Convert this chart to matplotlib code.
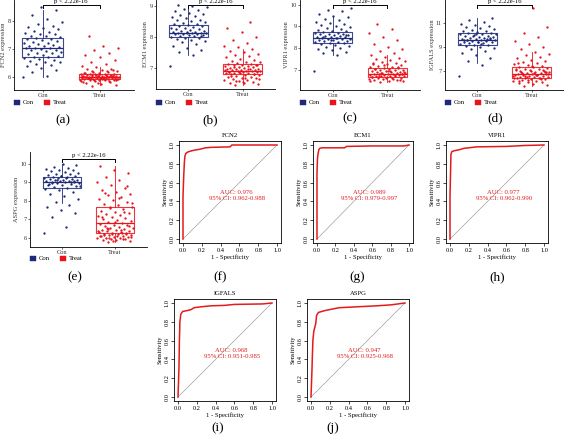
import numpy as np
import matplotlib
matplotlib.use('Agg')
import matplotlib.pyplot as plt
import matplotlib.transforms as mtrans
from matplotlib.patches import Rectangle

plt.rcParams['font.family'] = ['Liberation Serif', 'DejaVu Serif']

# ---- expression values (jittered points) ----
fcn2_con = [6.0, 6.05, 6.18, 6.25, 6.32, 6.38, 6.44, 6.48, 6.52, 6.55, 6.58, 6.62, 6.65, 6.68, 6.7,
            6.73, 6.76, 6.79, 6.81, 6.84, 6.87, 6.9, 6.92, 6.95, 6.97, 7.0, 7.02, 7.04, 7.05, 7.08,
            7.1, 7.12, 7.15, 7.18, 7.2, 7.23, 7.26, 7.28, 7.31, 7.34, 7.37, 7.4, 7.42, 7.45, 7.48,
            7.52, 7.55, 7.58, 7.62, 7.66, 7.7, 7.74, 7.78, 7.83, 7.9, 7.98, 8.08, 8.2, 8.38, 8.5]
fcn2_treat = [5.68, 5.72, 5.76, 5.8, 5.82, 5.84, 5.86, 5.88, 5.89, 5.9, 5.91, 5.92, 5.92, 5.93, 5.94,
              5.94, 5.95, 5.95, 5.96, 5.96, 5.97, 5.97, 5.98, 5.98, 5.99, 5.99, 6.0, 6.0, 6.01, 6.01,
              6.02, 6.02, 6.03, 6.03, 6.04, 6.05, 6.05, 6.06, 6.07, 6.08, 6.09, 6.1, 6.11, 6.12, 6.13,
              6.14, 5.87, 5.9, 5.93, 5.95, 5.97, 5.99, 6.01, 6.03, 6.06, 6.08, 5.91, 5.96, 6.0, 6.04,
              6.1, 5.89, 5.94, 5.98, 6.02, 6.07, 6.15, 6.17, 6.19, 6.21, 6.24, 6.27, 6.3, 6.35, 6.4,
              6.48, 6.55, 6.62, 6.7, 6.78, 6.86, 6.95, 7.05, 7.1, 7.46, 6.25, 5.78, 5.83, 6.2, 6.23]

ecm1_con = [7.06, 7.42, 7.5, 7.58, 7.65, 7.72, 7.78, 7.83, 7.87, 7.9, 7.93, 7.96, 7.98, 8.0, 8.02,
            8.03, 8.05, 8.06, 8.08, 8.09, 8.1, 8.11, 8.12, 8.13, 8.14, 8.15, 8.16, 8.17, 8.19, 8.2,
            8.22, 8.24, 8.26, 8.28, 8.3, 8.32, 8.34, 8.36, 8.38, 8.4, 8.42, 8.45, 8.48, 8.5, 8.53,
            8.56, 8.6, 8.63, 8.67, 8.7, 8.74, 8.78, 8.82, 8.86, 8.9, 8.95, 9.0, 9.03, 8.04, 8.12]
ecm1_treat = [6.45, 6.48, 6.5, 6.52, 6.55, 6.57, 6.6, 6.62, 6.64, 6.66, 6.68, 6.7, 6.72, 6.74, 6.76,
              6.78, 6.8, 6.81, 6.82, 6.83, 6.84, 6.85, 6.86, 6.87, 6.88, 6.89, 6.9, 6.9, 6.91, 6.92,
              6.93, 6.94, 6.95, 6.96, 6.97, 6.98, 7.0, 7.01, 7.02, 7.04, 7.05, 7.06, 7.08, 7.1, 7.11,
              7.12, 7.14, 7.16, 7.18, 7.2, 7.23, 7.26, 7.3, 7.34, 7.38, 7.42, 7.46, 7.5, 7.55, 7.6,
              7.66, 7.72, 7.8, 7.9, 8.0, 8.15, 8.3, 8.48, 6.58, 6.63, 6.69, 6.75, 6.79, 6.86, 6.92,
              6.97, 7.03, 7.09, 6.53, 6.88]

vipr1_con = [6.93, 7.67, 7.75, 7.82, 7.9, 7.96, 8.0, 8.05, 8.1, 8.14, 8.18, 8.21, 8.24, 8.27, 8.3,
             8.32, 8.34, 8.36, 8.38, 8.4, 8.42, 8.44, 8.46, 8.47, 8.49, 8.51, 8.53, 8.55, 8.57, 8.59,
             8.61, 8.63, 8.65, 8.67, 8.7, 8.72, 8.75, 8.78, 8.81, 8.85, 8.88, 8.92, 8.96, 9.0, 9.05,
             9.1, 9.15, 9.2, 9.28, 9.35, 9.42, 9.5, 9.6, 9.7, 9.78, 9.86, 8.45, 8.52, 8.6, 8.35]
vipr1_treat = [6.42, 6.45, 6.48, 6.5, 6.52, 6.55, 6.57, 6.59, 6.61, 6.63, 6.65, 6.66, 6.68, 6.69, 6.7,
               6.71, 6.72, 6.73, 6.75, 6.76, 6.77, 6.78, 6.79, 6.8, 6.81, 6.82, 6.84, 6.85, 6.87, 6.88,
               6.9, 6.92, 6.94, 6.96, 6.98, 7.0, 7.02, 7.04, 7.06, 7.08, 7.1, 7.13, 7.16, 7.2, 7.24,
               7.28, 7.32, 7.36, 7.4, 7.45, 7.5, 7.55, 7.6, 7.68, 7.75, 7.85, 7.95, 8.05, 8.2, 8.35,
               8.5, 8.7, 8.9, 9.1, 6.53, 6.6, 6.67, 6.74, 6.83, 6.89, 6.95, 7.01, 7.12, 7.22, 6.47,
               6.58, 6.7, 6.8, 6.93, 7.3]

igfals_con = [6.58, 7.5, 7.8, 8.1, 8.3, 8.5, 8.65, 8.8, 8.9, 9.0, 9.08, 9.15, 9.2, 9.25, 9.3,
              9.34, 9.38, 9.42, 9.46, 9.5, 9.53, 9.56, 9.58, 9.6, 9.63, 9.66, 9.7, 9.74, 9.78, 9.82,
              9.86, 9.9, 9.95, 10.0, 10.05, 10.1, 10.15, 10.2, 10.25, 10.3, 10.36, 10.42, 10.5, 10.58, 10.66,
              10.75, 10.85, 10.95, 11.1, 11.25, 11.4, 9.4, 9.55, 9.68, 9.92, 10.08, 9.28, 9.62, 9.76, 10.12]
igfals_treat = [5.75, 5.85, 5.92, 6.0, 6.05, 6.1, 6.15, 6.2, 6.25, 6.3, 6.34, 6.38, 6.42, 6.45, 6.48,
                6.51, 6.54, 6.57, 6.6, 6.63, 6.66, 6.69, 6.72, 6.75, 6.78, 6.81, 6.84, 6.88, 6.92, 6.96,
                7.0, 7.05, 7.1, 7.15, 7.2, 7.25, 7.3, 7.35, 7.42, 7.5, 7.58, 7.66, 7.75, 7.85, 7.95,
                8.05, 8.15, 8.3, 8.45, 8.6, 8.8, 9.0, 9.25, 9.5, 9.8, 10.2, 10.7, 12.25, 6.2, 6.35,
                6.5, 6.62, 6.7, 6.8, 6.9, 7.02, 7.18, 6.4, 6.58, 6.74, 6.86, 6.98, 7.12, 6.28, 6.46,
                6.64, 6.77, 6.95, 7.4, 7.7]

aspg_con = [6.28, 6.6, 7.12, 7.35, 7.5, 7.65, 7.8, 7.95, 8.1, 8.25, 8.4, 8.5, 8.6, 8.66, 8.72,
            8.76, 8.8, 8.84, 8.88, 8.92, 8.95, 8.98, 9.0, 9.02, 9.04, 9.06, 9.08, 9.1, 9.12, 9.14,
            9.16, 9.18, 9.2, 9.22, 9.25, 9.28, 9.31, 9.34, 9.37, 9.4, 9.44, 9.48, 9.52, 9.56, 9.6,
            9.65, 9.7, 9.75, 9.8, 9.86, 9.92, 9.98, 8.9, 9.05, 9.15, 8.82, 9.26, 8.97, 9.1, 9.35]
aspg_treat = [5.8, 5.84, 5.88, 5.9, 5.93, 5.95, 5.98, 6.0, 6.02, 6.05, 6.07, 6.1, 6.12, 6.15, 6.18,
              6.2, 6.22, 6.25, 6.28, 6.3, 6.33, 6.36, 6.39, 6.42, 6.45, 6.48, 6.52, 6.56, 6.6, 6.64,
              6.68, 6.72, 6.76, 6.8, 6.85, 6.9, 6.95, 7.0, 7.06, 7.12, 7.18, 7.24, 7.3, 7.36, 7.42,
              7.48, 7.55, 7.62, 7.7, 7.78, 7.86, 7.95, 8.04, 8.12, 8.2, 8.3, 8.4, 8.5, 8.6, 8.72,
              8.85, 9.0, 9.15, 9.3, 9.5, 9.7, 9.9, 5.92, 5.97, 6.03, 6.08, 6.14, 6.19, 6.24, 6.35,
              6.44, 6.54, 6.66, 6.88, 7.15, 7.4, 7.65, 7.9, 8.15, 8.45, 8.8, 5.86, 6.11, 6.27, 6.5]

# box statistics [Con, Treat]
fcn2_q1, fcn2_med, fcn2_q3 = [6.71, 5.93], [7.04, 5.99], [7.39, 6.10]
fcn2_lo, fcn2_hi = [6.0, 5.72], [8.4, 6.35]
ecm1_q1, ecm1_med, ecm1_q3 = [8.0, 6.81], [8.13, 6.90], [8.39, 7.13]
ecm1_lo, ecm1_hi = [7.42, 6.45], [8.97, 7.6]
vipr1_q1, vipr1_med, vipr1_q3 = [8.23, 6.65], [8.47, 6.79], [8.74, 7.07]
vipr1_lo, vipr1_hi = [7.67, 6.42], [9.5, 7.68]
igfals_q1, igfals_med, igfals_q3 = [9.17, 6.42], [9.58, 6.75], [10.17, 7.33]
igfals_lo, igfals_hi = [7.7, 5.75], [11.4, 8.6]
aspg_q1, aspg_med, aspg_q3 = [8.72, 6.26], [9.04, 6.79], [9.31, 7.70]
aspg_lo, aspg_hi = [7.9, 5.8], [9.98, 9.9]

groups = ['Con', 'Treat']
p_text = 'p < 2.22e-16'

# ---- ROC curves (1 - specificity, sensitivity) ----
fcn2_fpr = [0, 0, 0.005, 0.01, 0.015, 0.02, 0.03, 0.05, 0.08, 0.12, 0.18, 0.24, 0.3, 0.5, 0.52, 1.0]
fcn2_tpr = [0, 0.45, 0.6, 0.72, 0.82, 0.88, 0.91, 0.925, 0.935, 0.945, 0.955, 0.97, 0.975, 0.98, 1.0, 1.0]
ecm1_fpr = [0, 0, 0.005, 0.01, 0.02, 0.03, 0.05, 0.1, 0.3, 0.32, 0.6, 0.95, 1.0]
ecm1_tpr = [0, 0.7, 0.85, 0.9, 0.95, 0.965, 0.97, 0.97, 0.97, 0.985, 0.99, 0.99, 1.0]
vipr1_fpr = [0, 0, 0.01, 0.02, 0.05, 0.1, 0.15, 0.2, 0.28, 0.6, 0.8, 1.0]
vipr1_tpr = [0, 0.45, 0.9, 0.93, 0.94, 0.95, 0.965, 0.97, 0.98, 0.985, 0.995, 1.0]
igfals_fpr = [0, 0.01, 0.015, 0.02, 0.03, 0.05, 0.1, 0.14, 0.17, 0.25, 0.35, 0.5, 0.6, 0.9, 1.0]
igfals_tpr = [0, 0.3, 0.6, 0.8, 0.88, 0.91, 0.92, 0.93, 0.95, 0.96, 0.97, 0.975, 0.985, 0.99, 1.0]
aspg_fpr = [0, 0.01, 0.015, 0.02, 0.03, 0.05, 0.06, 0.08, 0.15, 0.2, 0.3, 0.5, 0.7, 0.85, 1.0]
aspg_tpr = [0, 0.28, 0.45, 0.6, 0.7, 0.78, 0.87, 0.9, 0.92, 0.93, 0.95, 0.96, 0.97, 0.98, 1.0]

auc_labels = ['AUC: 0.976', 'AUC: 0.989', 'AUC: 0.977', 'AUC: 0.968', 'AUC: 0.947']
ci_labels = ['95% CI: 0.962-0.988', '95% CI: 0.979-0.997', '95% CI: 0.962-0.990',
             '95% CI: 0.951-0.985', '95% CI: 0.925-0.968']

CON = '#1c2a78'
TREAT = '#e8131b'
ROC_RED = '#e41a1c'

W, H = 564, 440
fig = plt.figure(figsize=(5.64, 4.40), dpi=100)


def add_ax(l, t, r, b):
    return fig.add_axes([l / W, 1 - b / H, (r - l) / W, (b - t) / H])


def box_panel(box, xlim, ylim, yticks, con, treat, q1, med, q3, lo, hi, ylabel, leg_y, label,
              label_xy, p_px):
    ax = add_ax(*box)
    for i, (vals, col) in enumerate([(con, CON), (treat, TREAT)]):
        n = len(vals)
        jit = ((np.arange(n) * 0.6180339887 + 0.3 * i) % 1 - 0.5) * 0.68
        ax.scatter(i + 1 + jit, vals, s=2.8, c=col, lw=0, zorder=3)
    stats = [dict(q1=q1[k], med=med[k], q3=q3[k], whislo=lo[k], whishi=hi[k]) for k in range(2)]
    art = ax.bxp(stats, positions=[1, 2], widths=0.72, showfliers=False, showcaps=False,
                 manage_ticks=False)
    for k, col in enumerate([CON, TREAT]):
        art['boxes'][k].set(color=col, lw=0.8, alpha=0.85)
        art['medians'][k].set(color=col, lw=0.9)
        for w in art['whiskers'][2 * k:2 * k + 2]:
            w.set(color=col, lw=0.6)
    ax.set_xlim(*xlim)
    ax.set_ylim(*ylim)
    ax.set_xticks([1, 2])
    ax.set_xticklabels(groups)
    ax.set_yticks(yticks)
    ax.set_yticklabels([str(v) for v in yticks])
    for s in ['top', 'right']:
        ax.spines[s].set_visible(False)
    for s in ['left', 'bottom']:
        ax.spines[s].set_linewidth(0.6)
    ax.tick_params(labelsize=4.6, length=1.5, width=0.5, pad=0.8, colors='#333333')
    ax.set_ylabel(ylabel, fontsize=4.6, labelpad=0.8, color='#333333')
    # significance bracket
    tr = mtrans.blended_transform_factory(ax.transData, ax.transAxes)
    bh = box[3] - box[1]
    by = (box[3] - p_px) / bh
    ax.plot([1, 1, 2, 2], [by - 3 / bh, by, by, by - 3 / bh], transform=tr, color='k', lw=0.7,
            clip_on=False)
    ax.text(1.5, by + 1 / bh, p_text, transform=tr, ha='center', va='bottom', fontsize=4.8,
            clip_on=False)
    # legend
    x0 = box[0]
    for dx, col, txt in [(0, CON, 'Con'), (30, TREAT, 'Treat')]:
        fig.add_artist(Rectangle(((x0 + dx) / W, 1 - (leg_y + 2.5) / H), 6 / W, 5 / H,
                                 transform=fig.transFigure, facecolor=col, edgecolor=col, lw=0.3))
        fig.text((x0 + dx + 9) / W, 1 - leg_y / H, txt, fontsize=4.8, va='center', ha='left')
    fig.text(label_xy[0] / W, 1 - label_xy[1] / H, label, fontsize=9.5, ha='center', va='center')
    return ax


def roc_panel(xs, ys, fpr, tpr, title, auc, ci, label, label_xy):
    x0, x1 = xs
    y1, y0 = ys
    px, py = 0.04 * (x1 - x0), 0.04 * (y0 - y1)
    ax = add_ax(x0 - px, y1 - py, x1 + px, y0 + py)
    ax.plot([0, 1], [0, 1], color='#a0a0a0', lw=0.5)
    ax.plot(fpr, tpr, color=ROC_RED, lw=1.1)
    ax.set_xlim(-0.04, 1.04)
    ax.set_ylim(-0.04, 1.04)
    ticks = [0, 0.2, 0.4, 0.6, 0.8, 1.0]
    tl = ['%.1f' % t for t in ticks]
    ax.set_xticks(ticks)
    ax.set_xticklabels(tl)
    ax.set_yticks(ticks)
    ax.set_yticklabels(tl, rotation=90, va='center')
    for s in ax.spines.values():
        s.set_linewidth(0.6)
    ax.tick_params(labelsize=4.6, length=2, width=0.5, pad=1.5)
    ax.set_xlabel('1 - Specificity', fontsize=4.8, labelpad=1.5)
    ax.set_ylabel('Sensitivity', fontsize=4.8, labelpad=1.5)
    ax.set_title(title, fontsize=4.8, pad=3)
    ax.text(0.57, 0.5, auc, color=ROC_RED, fontsize=4.8, ha='center', va='center')
    ax.text(0.57, 0.43, ci, color=ROC_RED, fontsize=4.8, ha='center', va='center')
    fig.text(label_xy[0] / W, 1 - label_xy[1] / H, label, fontsize=9.5, ha='center', va='center')
    return ax


# ---- boxplot panels ----
box_panel((14, 0, 134, 90), (0.5, 2.6), (5.536, 8.75), [6, 7, 8], fcn2_con, fcn2_treat,
          fcn2_q1, fcn2_med, fcn2_q3, fcn2_lo, fcn2_hi, 'FCN2 expression', 102, '(a)', (63, 120), 5)
box_panel((156, 0, 275, 89), (0.4, 2.6), (6.32, 9.19), [7, 8, 9], ecm1_con, ecm1_treat,
          ecm1_q1, ecm1_med, ecm1_q3, ecm1_lo, ecm1_hi, 'ECM1 expression', 102, '(b)', (210, 120), 5)
box_panel((300, 0, 420, 90), (0.4, 2.6), (6.05, 10.23), [7, 8, 9, 10], vipr1_con, vipr1_treat,
          vipr1_q1, vipr1_med, vipr1_q3, vipr1_lo, vipr1_hi, 'VIPR1 expression', 102, '(c)', (350, 118), 5)
box_panel((445, 0, 564, 90), (0.4, 2.6), (5.42, 12.92), [7, 9, 11], igfals_con, igfals_treat,
          igfals_q1, igfals_med, igfals_q3, igfals_lo, igfals_hi, 'IGFALS expression', 102, '(d)', (495, 118), 5)
box_panel((30, 152, 147, 247), (0.4, 2.6), (5.51, 10.65), [6, 7, 8, 9, 10], aspg_con, aspg_treat,
          aspg_q1, aspg_med, aspg_q3, aspg_lo, aspg_hi, 'ASPG expression', 258, '(e)', (75, 277), 159)

# ---- ROC panels ----
roc_panel((183, 277), (145, 239), fcn2_fpr, fcn2_tpr, 'FCN2', auc_labels[0], ci_labels[0], '(f)', (220, 277))
roc_panel((317, 409), (145, 239), ecm1_fpr, ecm1_tpr, 'ECM1', auc_labels[1], ci_labels[1], '(g)', (357, 277))
roc_panel((450, 544), (145, 239), vipr1_fpr, vipr1_tpr, 'VIPR1', auc_labels[2], ci_labels[2], '(h)', (497, 277))
roc_panel((178, 272), (303, 397), igfals_fpr, igfals_tpr, 'IGFALS', auc_labels[3], ci_labels[3], '(i)', (218, 428))
roc_panel((311, 405), (303, 397), aspg_fpr, aspg_tpr, 'ASPG', auc_labels[4], ci_labels[4], '(j)', (333, 428))

fig.savefig('out.png', dpi=100)
